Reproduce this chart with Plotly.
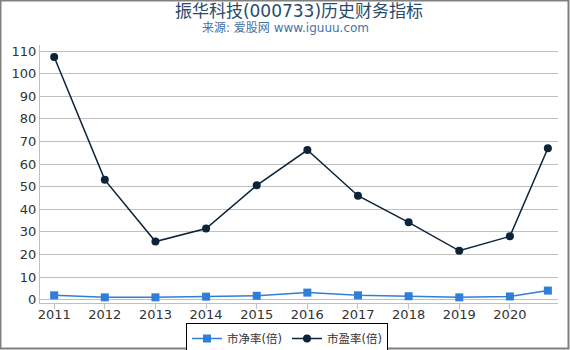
import plotly.graph_objects as go

x_pos = [2011, 2012, 2013, 2014, 2015, 2016, 2017, 2018, 2019, 2020, 2020.75]
tick_vals = [2011, 2012, 2013, 2014, 2015, 2016, 2017, 2018, 2019, 2020]
tick_text = ["2011", "2012", "2013", "2014", "2015", "2016", "2017", "2018", "2019", "2020"]
pb = [1.9, 1.0, 1.0, 1.3, 1.7, 3.1, 1.9, 1.5, 1.0, 1.4, 4.0]
pe = [107.4, 53.0, 25.7, 31.5, 50.6, 66.2, 46.0, 34.2, 21.6, 28.0, 67.0]
y_ticks = list(range(0, 111, 10))

L, R, T, B = 40, 12, 45, 47
W, H = 570, 350
pw, ph = W - L - R, H - T - B

fig = go.Figure()
fig.add_trace(go.Scatter(x=x_pos, y=pb, mode="lines+markers", name="市净率(倍)",
                         line=dict(color="#2f7ed8", width=1.5),
                         marker=dict(symbol="square", size=8, color="#2f7ed8")))
fig.add_trace(go.Scatter(x=x_pos, y=pe, mode="lines+markers", name="市盈率(倍)",
                         line=dict(color="#0d233a", width=1.5),
                         marker=dict(symbol="circle", size=8, color="#0d233a")))

def px(x):
    return (x - L) / pw

def py(y):
    return (H - B - y) / ph

fig.add_shape(type="rect", xref="paper", yref="paper",
              x0=px(0.5), x1=px(568.5), y0=py(348.5), y1=py(0.5),
              line=dict(color="#808080", width=2), layer="below")

fig.update_layout(
    width=W, height=H,
    margin=dict(l=L, r=R, t=T, b=B, autoexpand=False),
    paper_bgcolor="white", plot_bgcolor="white",
    font=dict(family="DejaVu Sans, Noto Sans CJK SC", color="#333333", size=13),
    title=dict(text="振华科技(000733)历史财务指标", x=0.5, xref="paper", xanchor="center",
               y=1 - 11 / H, yref="container", yanchor="middle",
               font=dict(size=17, color="#274b6d", family="DejaVu Sans, Noto Sans CJK SC")),
    showlegend=True,
    legend=dict(orientation="h", x=px(287), xanchor="center", y=py(323), yanchor="top",
                bordercolor="#000000", borderwidth=1, font=dict(size=11.5, color="#333333"),
                itemwidth=30, tracegroupgap=0),
    xaxis=dict(range=[2010.72, 2020.95], tickvals=tick_vals, ticktext=tick_text,
               showgrid=False, showline=True, linecolor="#c0c0c0", linewidth=1,
               ticks="outside", tickcolor="#c0c0c0", ticklen=5, zeroline=False,
               ticklabelstandoff=-6,
               tickfont=dict(size=13, color="#333333")),
    yaxis=dict(range=[-1.5, 112.7], tickvals=y_ticks, showgrid=True, gridcolor="#c0c0c0",
               gridwidth=1, showline=True, linecolor="#c0c0c0", zeroline=False,
               ticks="", tickfont=dict(size=13, color="#333333")),
)

fig.add_annotation(text="来源: 爱股网 www.iguuu.com", xref="paper", yref="paper",
                   x=px(285), y=py(28), xanchor="center", yanchor="middle",
                   showarrow=False, font=dict(size=12, color="#4572a7"))

fig.write_html("out.html")
